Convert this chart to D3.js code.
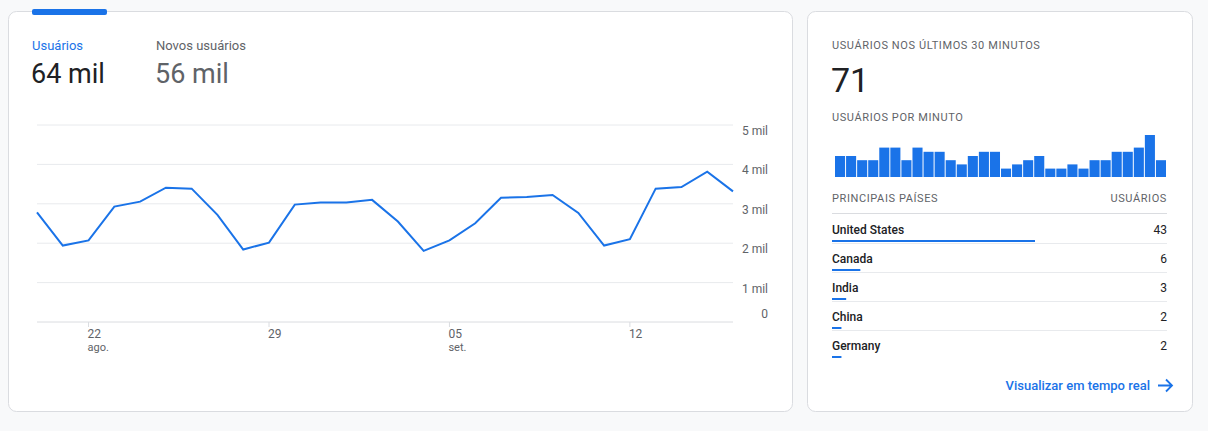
<!DOCTYPE html>
<html>
<head>
<meta charset="utf-8">
<script src="https://cdn.jsdelivr.net/npm/d3@7"></script>
<style>
  body { margin:0; background:#f8f9fa; font-family: Roboto, "Noto Sans", sans-serif; }
  svg text { font-family: Roboto, "Noto Sans", sans-serif; }
</style>
</head>
<body>
<svg id="chart" width="1208" height="431"></svg>
<script>
// daily users, 20 ago .. 16 set
const days = d3.range(28);
const users = [2785,1940,2070,2930,3055,3410,3385,2720,1840,2015,2980,3030,3030,3100,2550,1805,2070,2505,3155,3175,3225,2770,1940,2100,3385,3425,3815,3315];
const tickIdx = [2, 9, 16, 23];
const tickDay = ["22", "29", "05", "12"];
const tickMonth = ["ago.", "", "set.", ""];
const yTicks = [0, 1000, 2000, 3000, 4000, 5000];
const yTickLabels = ["0", "1 mil", "2 mil", "3 mil", "4 mil", "5 mil"];

// users per minute, last 30 minutes
const perMinute = [5,5,4,4,7,7,4,7,6,6,4,3,5,6,6,2,3,4,5,2,2,3,2,4,4,6,6,7,10,4];

const countries = ["United States", "Canada", "India", "China", "Germany"];
const countryUsers = [43, 6, 3, 2, 2];

const blue = "#1a73e8";
const svg = d3.select("#chart");

// cards
svg.append("rect").attr("x", 8.5).attr("y", 11.5).attr("width", 784).attr("height", 400)
  .attr("rx", 8).attr("fill", "#fff").attr("stroke", "#dadce0");
svg.append("rect").attr("x", 807.5).attr("y", 11.5).attr("width", 385).attr("height", 400)
  .attr("rx", 8).attr("fill", "#fff").attr("stroke", "#dadce0");
svg.append("rect").attr("x", 32).attr("y", 9).attr("width", 75).attr("height", 6).attr("rx", 2).attr("fill", blue);

// headline metrics
svg.append("text").attr("x", 32).attr("y", 50).attr("font-size", 13).attr("fill", blue).text("Usuários");
svg.append("text").attr("x", 31).attr("y", 83).attr("font-size", 27).attr("fill", "#202124").text("64 mil");
svg.append("text").attr("x", 156).attr("y", 50).attr("font-size", 13).attr("fill", "#5f6368").text("Novos usuários");
svg.append("text").attr("x", 155).attr("y", 83).attr("font-size", 27).attr("fill", "#5f6368").text("56 mil");

// line chart
const x = d3.scaleLinear().domain([0, 27]).range([37, 733]);
const y = d3.scaleLinear().domain([0, 5000]).range([322, 125]);

const grid = svg.append("g");
yTicks.forEach((t, i) => {
  grid.append("line").attr("x1", 37).attr("x2", 733).attr("y1", y(t)).attr("y2", y(t))
    .attr("stroke", i === 0 ? "#dadce0" : "#e8eaed");
  grid.append("text").attr("x", 768).attr("y", y(t) + (i === 0 ? -4 : 10))
    .attr("text-anchor", "end").attr("font-size", 12).attr("fill", "#5f6368").text(yTickLabels[i]);
});
tickIdx.forEach((d, i) => {
  grid.append("line").attr("x1", x(d)).attr("x2", x(d)).attr("y1", 322).attr("y2", 327).attr("stroke", "#dadce0");
  grid.append("text").attr("x", x(d) - 1).attr("y", 338).attr("font-size", 12).attr("fill", "#5f6368").text(tickDay[i]);
  grid.append("text").attr("x", x(d) - 1).attr("y", 351).attr("font-size", 11).attr("fill", "#5f6368").text(tickMonth[i]);
});

svg.append("path").datum(users)
  .attr("d", d3.line().x((d, i) => x(days[i])).y(d => y(d)))
  .attr("fill", "none").attr("stroke", blue).attr("stroke-width", 2);

// realtime card
const lbl = (xx, yy, t, anchor) => svg.append("text").attr("x", xx).attr("y", yy)
  .attr("font-size", 11).attr("letter-spacing", 0.6).attr("fill", "#5f6368")
  .attr("text-anchor", anchor || "start").text(t);
lbl(832, 49, "USUÁRIOS NOS ÚLTIMOS 30 MINUTOS");
svg.append("text").attr("x", 831).attr("y", 92).attr("font-size", 34).attr("fill", "#202124").text("71");
lbl(832, 121, "USUÁRIOS POR MINUTO");

const bx = d3.scaleBand().domain(d3.range(perMinute.length)).range([835, 1166]).paddingInner(0.09);
const by = d3.scaleLinear().domain([0, 10]).range([177, 135]);
svg.append("g").selectAll("rect").data(perMinute).join("rect")
  .attr("x", (d, i) => bx(i)).attr("width", bx.bandwidth())
  .attr("y", d => by(d)).attr("height", d => 177 - by(d)).attr("fill", blue);

lbl(832, 202, "PRINCIPAIS PAÍSES");
lbl(1167, 202, "USUÁRIOS", "end");
svg.append("line").attr("x1", 832).attr("x2", 1167).attr("y1", 213.5).attr("y2", 213.5).attr("stroke", "#dadce0");

const cw = d3.scaleLinear().domain([0, 43]).range([0, 203]);
countries.forEach((c, i) => {
  const ry = 234 + i * 29;
  svg.append("text").attr("x", 832).attr("y", ry).attr("font-size", 12).attr("font-weight", 500).attr("fill", "#202124").text(c);
  svg.append("text").attr("x", 1167).attr("y", ry).attr("text-anchor", "end").attr("font-size", 12).attr("fill", "#202124").text(countryUsers[i]);
  svg.append("rect").attr("x", 832).attr("y", ry + 6).attr("width", Math.max(cw(countryUsers[i]), 9)).attr("height", 2).attr("fill", blue);
  if (i < countries.length - 1)
    svg.append("line").attr("x1", 832).attr("x2", 1167).attr("y1", ry + 9.5).attr("y2", ry + 9.5).attr("stroke", "#e8eaed");
});

svg.append("text").attr("x", 1150).attr("y", 390).attr("text-anchor", "end").attr("font-size", 13)
  .attr("font-weight", 500).attr("fill", blue).text("Visualizar em tempo real");
svg.append("path").attr("d", "M1158,385.5 H1172 M1166,379.5 L1172,385.5 L1166,391.5")
  .attr("fill", "none").attr("stroke", blue).attr("stroke-width", 1.8);
</script>
</body>
</html>
